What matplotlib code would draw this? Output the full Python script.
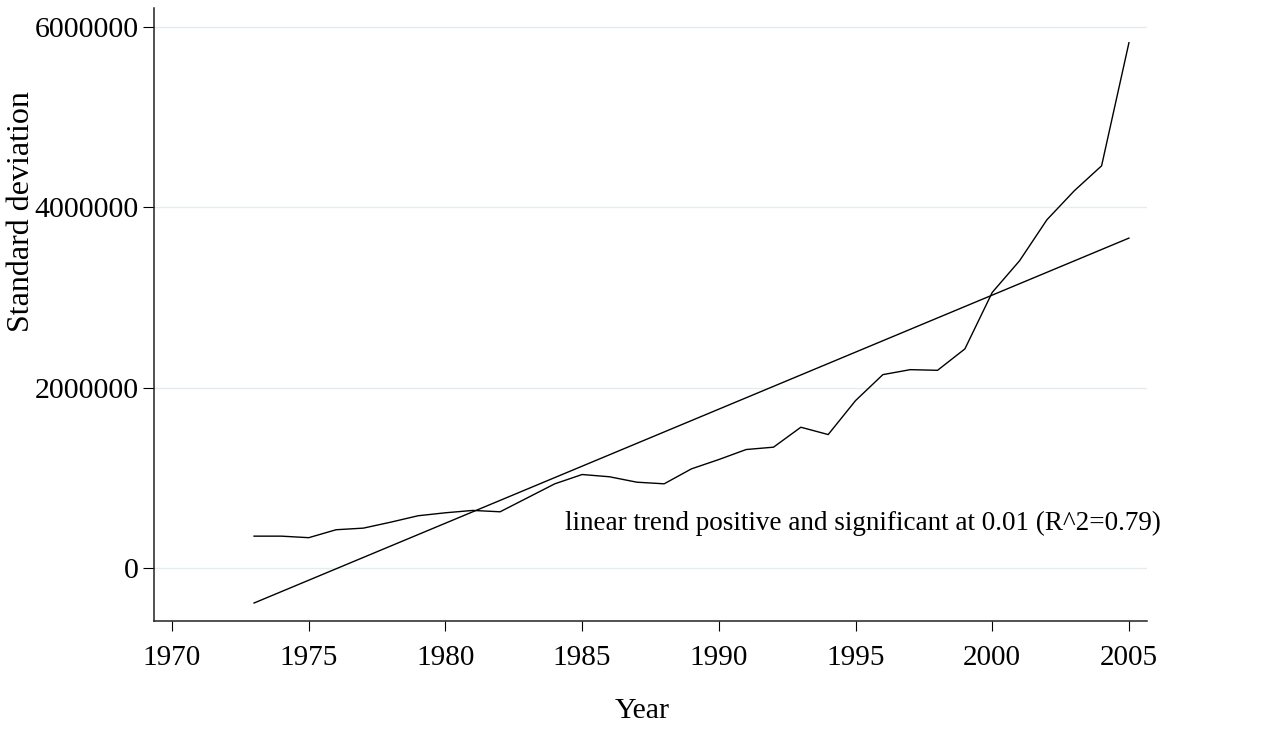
import numpy as np
import matplotlib
matplotlib.use('Agg')
import matplotlib.pyplot as plt

plt.rcParams['font.family'] = ['Liberation Serif', 'DejaVu Serif']

# yearly standard deviation, 1973-2005
years = list(range(1973, 2006))
sd_values = [357000, 357000, 340000, 428000, 446000, 512000, 583000, 616000,
             642000, 627000, 782000, 937000, 1040000, 1015000, 955000, 937000,
             1103000, 1206000, 1317000, 1343000, 1564000, 1483000, 1859000,
             2147000, 2202000, 2195000, 2432000, 3058000, 3409000, 3863000,
             4184000, 4461000, 5825000]

# fitted linear trend (end points)
trend_years = [1973, 2005]
trend_values = [-384000, 3660000]

trend_note = 'linear trend positive and significant at 0.01 (R^2=0.79)'

fig = plt.figure(figsize=(12.88, 7.29), dpi=100)
ax = fig.add_axes([154 / 1288, 1 - 620.7 / 729, (1146.7 - 154) / 1288, (620.7 - 8) / 729])

ax.plot(years, sd_values, color='black', lw=1.0)
ax.plot(trend_years, trend_values, color='black', lw=1.0)

ax.text(1984.36, 420000, trend_note, fontsize=19.5, ha='left', va='baseline')

ax.set_xlim(1969.34, 2005.65)
ax.set_ylim(-580000, 6210000)
ax.set_xticks(range(1970, 2006, 5))
ax.set_yticks([0, 2000000, 4000000, 6000000])
ax.set_yticklabels(['0', '2000000', '4000000', '6000000'])

ax.grid(axis='y', color='#e3edf0', lw=1.0)
ax.set_axisbelow(True)
for side in ['top', 'right']:
    ax.spines[side].set_visible(False)
for side in ['left', 'bottom']:
    ax.spines[side].set_linewidth(1.1)
    ax.spines[side].set_color('#222222')

ax.tick_params(axis='x', length=7.5, width=0.8, pad=10, labelsize=21)
ax.tick_params(axis='y', length=8, width=0.8, pad=3, labelsize=21.5)

fig.text(642 / 1288, 1 - 718 / 729, 'Year', fontsize=21.5, ha='center', va='baseline')
fig.text(22 / 1288, 1 - 212 / 729, 'Standard deviation', fontsize=23,
         rotation=90, ha='center', va='center')

fig.savefig('out.png', dpi=100)
